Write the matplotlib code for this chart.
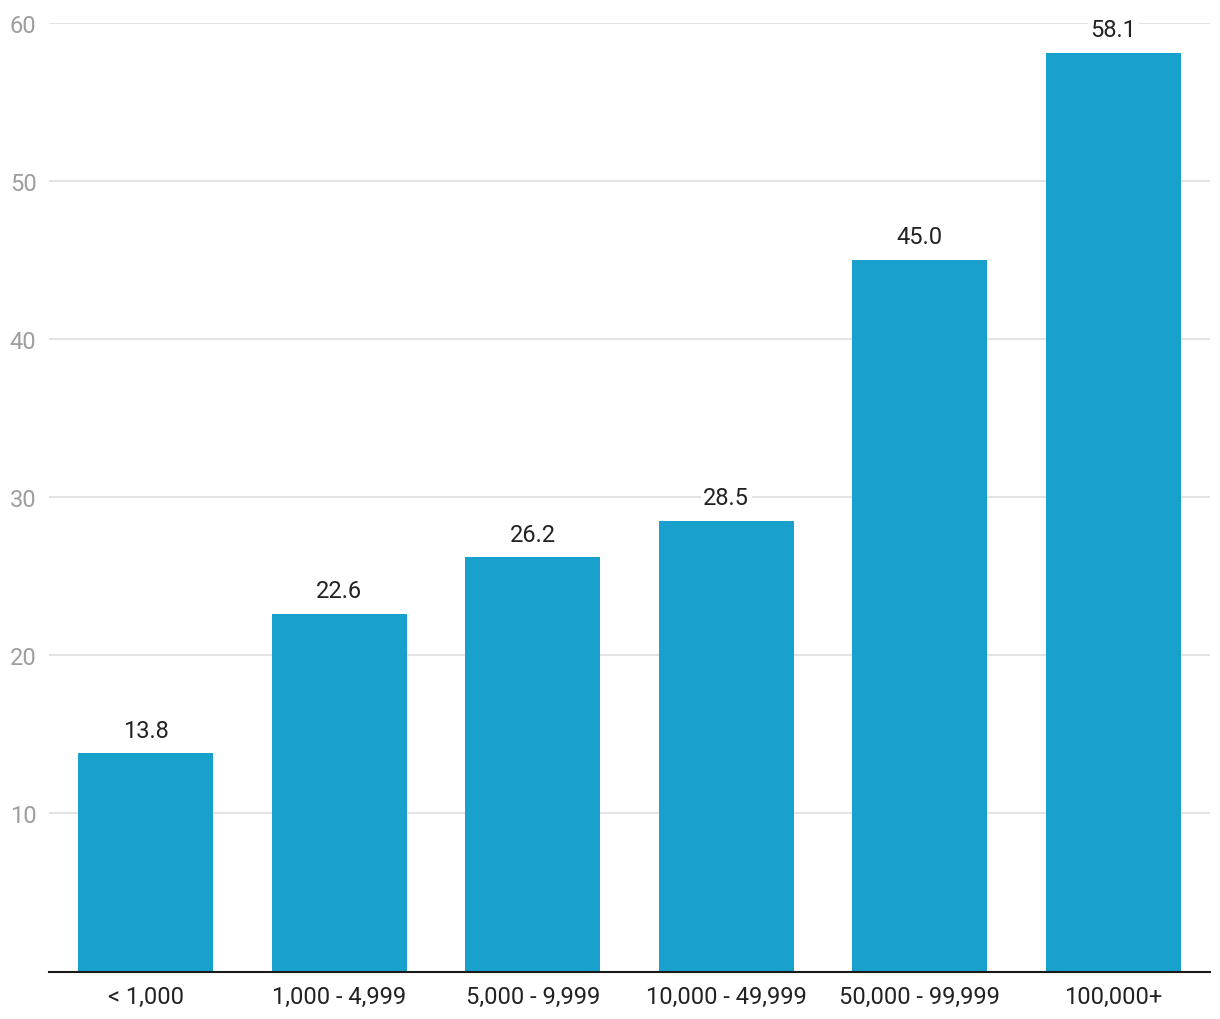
import numpy as np
import matplotlib.pyplot as plt

categorias = ["< 1,000", "1,000 - 4,999", "5,000 - 9,999", "10,000 - 49,999",
              "50,000 - 99,999", "100,000+"]
valores = [13.8, 22.6, 26.2, 28.5, 45.0, 58.1]
ticks_y = [10, 20, 30, 40, 50, 60]

plt.rcParams['font.family'] = ['Roboto', 'DejaVu Sans']

fig = plt.figure(figsize=(12.2, 10.2), dpi=100)
ax = fig.add_axes([49 / 1220, 47.5 / 1020, 1161 / 1220, 948.5 / 1020])

x = np.arange(len(categorias))
barras = ax.bar(x, valores, width=0.70, color="#19a1cd", zorder=2)

for xi, v in zip(x, valores):
    ax.annotate(f"{v:.1f}", (xi, v), xytext=(0, 8.5), textcoords="offset points",
                ha="center", va="bottom", fontsize=17, color="#222222",
                bbox=dict(boxstyle="square,pad=0.1", fc="white", ec="none"),
                zorder=3)

ax.set_xlim(-0.5, len(categorias) - 0.5)
ax.set_ylim(0, 60)
ax.set_yticks(ticks_y)
ax.set_yticklabels([str(t) for t in ticks_y], fontsize=17, color="#9e9e9e")
ax.set_xticks(x)
ax.set_xticklabels(categorias, fontsize=17, color="#222222")

ax.grid(axis="y", color="#e3e3e3", linewidth=1.5, zorder=0)
ax.tick_params(axis="both", length=0)
ax.tick_params(axis="y", pad=9)
ax.tick_params(axis="x", pad=10)
for s in ["top", "right", "left"]:
    ax.spines[s].set_visible(False)
ax.spines["bottom"].set_color("#1a1a1a")
ax.spines["bottom"].set_linewidth(1.5)
ax.spines["bottom"].set_zorder(4)

fig.savefig("out.png", dpi=100, facecolor="white")
